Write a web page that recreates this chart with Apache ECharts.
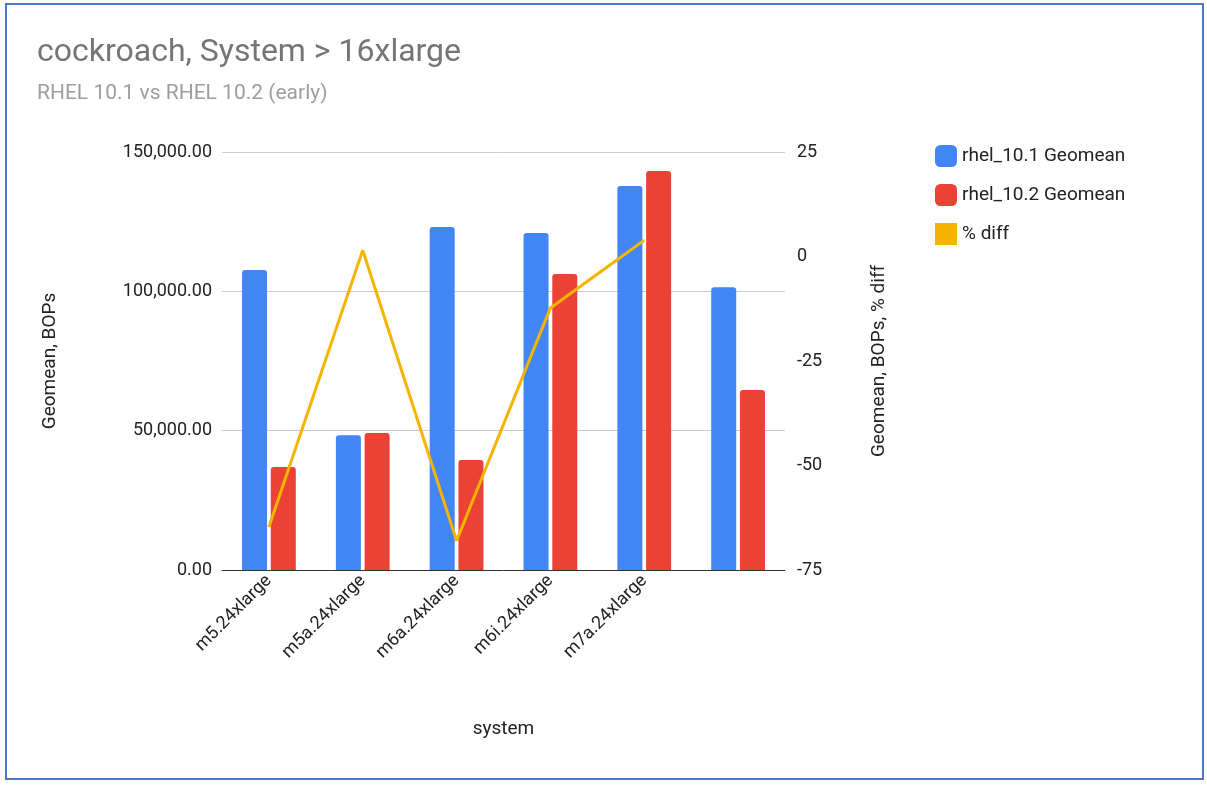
<!DOCTYPE html>
<html><head><meta charset="utf-8">
<script src="https://cdn.jsdelivr.net/npm/echarts@6/dist/echarts.min.js"></script>
<style>html,body{margin:0;padding:0;background:#fff}#c{width:1207px;height:785px}</style>
</head><body><div id="c"></div>
<script>
const categories = ["m5.24xlarge","m5a.24xlarge","m6a.24xlarge","m6i.24xlarge","m7a.24xlarge",""];
const rhel101 = [107700, 48400, 123100, 120900, 137800, 101500];
const rhel102 = [37000, 49200, 39500, 106200, 143200, 64600];
const pctDiff = [-64.7, 1.5, -68, -12.3, 3.9, null];
const leftTicks = [0, 50000, 100000, 150000];
const rightTicks = [-75, -50, -25, 0, 25];

const chart = echarts.init(document.getElementById('c'));
const font = "Roboto, Arial, sans-serif";
chart.setOption({
  animation:false,
  textStyle:{fontFamily:font},
  graphic:[{type:'rect',shape:{x:6,y:4,width:1197,height:775},style:{fill:'none',stroke:'#4a78c8',lineWidth:2}}],
  title:{text:'cockroach, System > 16xlarge',subtext:'RHEL 10.1 vs RHEL 10.2 (early)',left:32,top:32,
    textStyle:{fontSize:32,fontWeight:'normal',color:'#757575',fontFamily:font},
    subtextStyle:{fontSize:21,color:'#9e9e9e',fontFamily:font},itemGap:14},
  legend:{orient:'vertical',left:930,top:140,itemGap:17,itemWidth:22,itemHeight:22,
    textStyle:{fontSize:19,color:'#222'},
    data:[{name:'rhel_10.1 Geomean',icon:'roundRect'},{name:'rhel_10.2 Geomean',icon:'roundRect'},{name:'% diff',icon:'rect',itemStyle:{color:'#f5b400'}}]},
  grid:{left:222,right:422,top:152,bottom:215},
  xAxis:{type:'category',data:categories,name:'system',nameLocation:'middle',nameGap:150,
    nameTextStyle:{fontSize:19,color:'#222'},
    axisLine:{lineStyle:{color:'#333'}},axisTick:{show:false},
    axisLabel:{rotate:45,fontSize:18,color:'#222',interval:0}},
  yAxis:[
    {type:'value',min:0,max:150000,interval:50000,name:'Geomean, BOPs',nameLocation:'middle',nameGap:162,nameRotate:90,
     nameTextStyle:{fontSize:19,color:'#222'},
     axisLabel:{fontSize:18,color:'#222',margin:10,formatter:v=>v.toLocaleString('en-US',{minimumFractionDigits:2,maximumFractionDigits:2})},
     splitLine:{lineStyle:{color:'#ccc'}},axisLine:{show:false},axisTick:{show:false}},
    {type:'value',min:-75,max:25,interval:25,name:'Geomean, BOPs, % diff',nameLocation:'middle',nameGap:85,nameRotate:90,
     nameTextStyle:{fontSize:19,color:'#222'},
     axisLabel:{fontSize:18,color:'#222',margin:12},
     splitLine:{show:false},axisLine:{show:false},axisTick:{show:false}}
  ],
  series:[
    {name:'rhel_10.1 Geomean',type:'bar',data:rhel101,barWidth:25,barGap:'15%',itemStyle:{color:'#4285f4',borderRadius:[3,3,0,0]}},
    {name:'rhel_10.2 Geomean',type:'bar',data:rhel102,barWidth:25,itemStyle:{color:'#ea4335',borderRadius:[3,3,0,0]}},
    {name:'% diff',type:'line',yAxisIndex:1,data:pctDiff,symbol:'none',lineStyle:{color:'#f5b400',width:3},itemStyle:{color:'#f5b400'}}
  ]
});
</script></body></html>
